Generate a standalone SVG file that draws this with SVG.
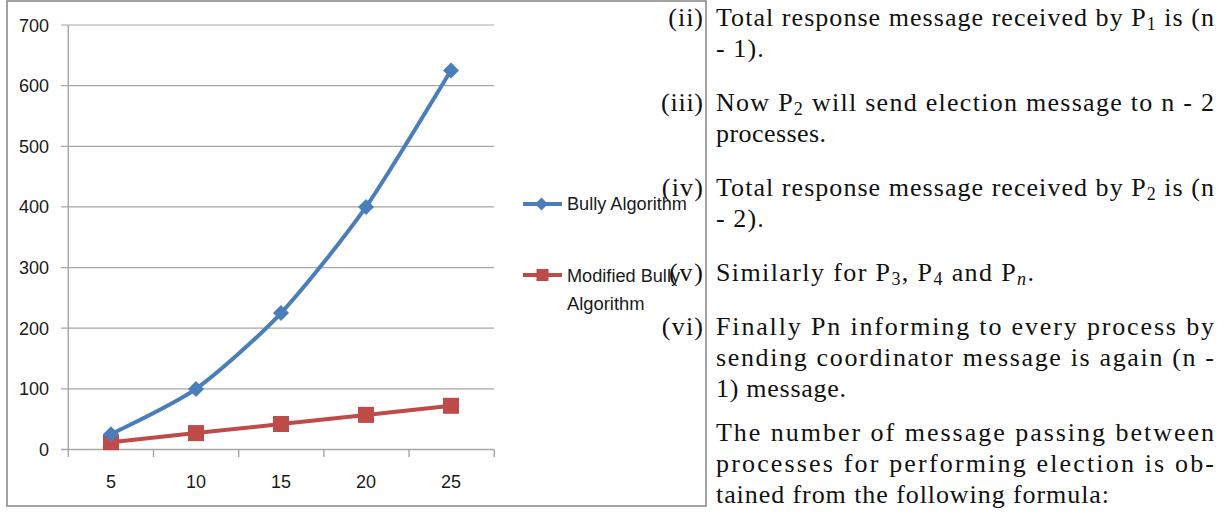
<svg xmlns="http://www.w3.org/2000/svg" xmlns:xlink="http://www.w3.org/1999/xlink" width="1230" height="514" viewBox="0 0 1230 514">
<style>
.grid{stroke:#A6A6A6;stroke-width:1.2;fill:none}
.axis{stroke:#A6A6A6;stroke-width:1.4;fill:none}
.frame{stroke:#8C8C8C;stroke-width:1.6;fill:#fff}
.lbl{font-family:"Liberation Sans",Arial,sans-serif;font-size:18px;fill:#1a1a1a}
.yl{text-anchor:end}
.xl{text-anchor:middle}
.blue{stroke:#4A7EBB;stroke-width:4;fill:none;stroke-linejoin:round;stroke-linecap:round}
.red{stroke:#BE4B48;stroke-width:4;fill:none;stroke-linejoin:round;stroke-linecap:round}
.bm{fill:#4A7EBB}
.rm{fill:#BE4B48}
.tx{font-family:"Liberation Serif","Times New Roman",serif;font-size:26px;fill:#111}
.it{text-anchor:end}
.sub{font-size:18px}
</style>
<defs>
<path id="dia" d="M0,-8 L8,0 L0,8 L-8,0Z"/>
<rect id="sq" x="-8" y="-8" width="16" height="16"/>
<path id="diaS" d="M0,-6.5 L6.5,0 L0,6.5 L-6.5,0Z"/>
<rect id="sqS" x="-6" y="-6" width="12" height="12"/>
</defs>
<rect width="1230" height="514" fill="#fff"/>
<g id="chart">
<rect class="frame" x="7" y="1" width="699" height="505"/>
<g id="gridlines">
<line class="grid" x1="61" y1="25" x2="494" y2="25"/>
<line class="grid" x1="61" y1="85.7" x2="494" y2="85.7"/>
<line class="grid" x1="61" y1="146.3" x2="494" y2="146.3"/>
<line class="grid" x1="61" y1="206.9" x2="494" y2="206.9"/>
<line class="grid" x1="61" y1="267.6" x2="494" y2="267.6"/>
<line class="grid" x1="61" y1="328.2" x2="494" y2="328.2"/>
<line class="grid" x1="61" y1="388.9" x2="494" y2="388.9"/>
<line class="axis" x1="61" y1="449.5" x2="494" y2="449.5"/>
<line class="axis" x1="68.3" y1="25" x2="68.3" y2="457"/>
<line class="axis" x1="153.5" y1="449.5" x2="153.5" y2="457"/>
<line class="axis" x1="238.7" y1="449.5" x2="238.7" y2="457"/>
<line class="axis" x1="323.9" y1="449.5" x2="323.9" y2="457"/>
<line class="axis" x1="409.1" y1="449.5" x2="409.1" y2="457"/>
<line class="axis" x1="494.3" y1="449.5" x2="494.3" y2="457"/>
</g>
<g id="y-labels" class="lbl yl">
<text x="49" y="31.5">700</text>
<text x="49" y="92.2">600</text>
<text x="49" y="152.8">500</text>
<text x="49" y="213.4">400</text>
<text x="49" y="274.1">300</text>
<text x="49" y="334.7">200</text>
<text x="49" y="395.4">100</text>
<text x="49" y="456">0</text>
</g>
<g id="x-labels" class="lbl xl">
<text x="111" y="487.5">5</text>
<text x="196" y="487.5">10</text>
<text x="281" y="487.5">15</text>
<text x="366" y="487.5">20</text>
<text x="451" y="487.5">25</text>
</g>
<g id="series-modified">
<path class="red" d="M111,442.2 L196,433.1 L281,424 L366,414.9 L451,405.8"/>
<g class="rm">
<use xlink:href="#sq" x="111" y="442.2"/>
<use xlink:href="#sq" x="196" y="433.1"/>
<use xlink:href="#sq" x="281" y="424"/>
<use xlink:href="#sq" x="366" y="414.9"/>
<use xlink:href="#sq" x="451" y="405.8"/>
</g>
</g>
<g id="series-bully">
<path class="blue" d="M111,434.34 C121.6,428.65 174.75,404.02 196,388.86 C217.25,373.7 259.75,335.8 281,313.06 C302.25,290.32 344.75,237.26 366,206.94 C387.25,176.62 440.37,87.56 451,70.5"/>
<g class="bm">
<use xlink:href="#dia" x="111" y="434.3"/>
<use xlink:href="#dia" x="196" y="388.9"/>
<use xlink:href="#dia" x="281" y="313.1"/>
<use xlink:href="#dia" x="366" y="206.9"/>
<use xlink:href="#dia" x="451" y="70.5"/>
</g>
</g>
<g id="legend">
<line class="blue" x1="523" y1="204" x2="562" y2="204" style="stroke-linecap:butt"/>
<use class="bm" xlink:href="#diaS" x="541.5" y="204"/>
<text class="lbl" x="567" y="210" textLength="120" lengthAdjust="spacingAndGlyphs">Bully Algorithm</text>
<line class="red" x1="523" y1="275" x2="562" y2="275" style="stroke-linecap:butt"/>
<use class="rm" xlink:href="#sqS" x="542.5" y="275"/>
<text class="lbl" x="567" y="281.5" textLength="113" lengthAdjust="spacingAndGlyphs">Modified Bully</text>
<text class="lbl" x="567" y="310" textLength="77.5" lengthAdjust="spacingAndGlyphs">Algorithm</text>
</g>
</g>
<g id="text-block" class="tx">
<text class="it" x="703" y="26" textLength="34.7" lengthAdjust="spacing">(ii)</text>
<text x="716" y="26" textLength="498" lengthAdjust="spacing">Total response message received by P<tspan class="sub" dy="4">1</tspan><tspan dy="-4"> is (n</tspan></text>
<text x="716" y="57" textLength="47.7" lengthAdjust="spacing">- 1).</text>
<text class="it" x="703" y="111" textLength="41.9" lengthAdjust="spacing">(iii)</text>
<text x="716" y="111" textLength="498" lengthAdjust="spacing">Now P<tspan class="sub" dy="4">2</tspan><tspan dy="-4"> will send election message to n - 2</tspan></text>
<text x="716" y="142" textLength="110" lengthAdjust="spacing">processes.</text>
<text class="it" x="703" y="196" textLength="41.2" lengthAdjust="spacing">(iv)</text>
<text x="716" y="196" textLength="498" lengthAdjust="spacing">Total response message received by P<tspan class="sub" dy="4">2</tspan><tspan dy="-4"> is (n</tspan></text>
<text x="716" y="227" textLength="47.7" lengthAdjust="spacing">- 2).</text>
<text class="it" x="703" y="281" textLength="34" lengthAdjust="spacing">(v)</text>
<text x="716" y="281" textLength="318" lengthAdjust="spacing">Similarly for P<tspan class="sub" dy="4">3</tspan><tspan dy="-4">, P</tspan><tspan class="sub" dy="4">4</tspan><tspan dy="-4"> and P</tspan><tspan class="sub" dy="4" font-style="italic">n</tspan><tspan dy="-4">.</tspan></text>
<text class="it" x="703" y="335" textLength="41.2" lengthAdjust="spacing">(vi)</text>
<text x="716" y="335" textLength="498" lengthAdjust="spacing">Finally Pn informing to every process by</text>
<text x="716" y="366" textLength="498" lengthAdjust="spacing">sending coordinator message is again (n -</text>
<text x="716" y="397" textLength="130" lengthAdjust="spacing">1) message.</text>
<text x="716" y="441" textLength="498" lengthAdjust="spacing">The number of message passing between</text>
<text x="716" y="472" textLength="498" lengthAdjust="spacing">processes for performing election is ob-</text>
<text x="716" y="503" textLength="393" lengthAdjust="spacing">tained from the following formula:</text>
</g>
</svg>
